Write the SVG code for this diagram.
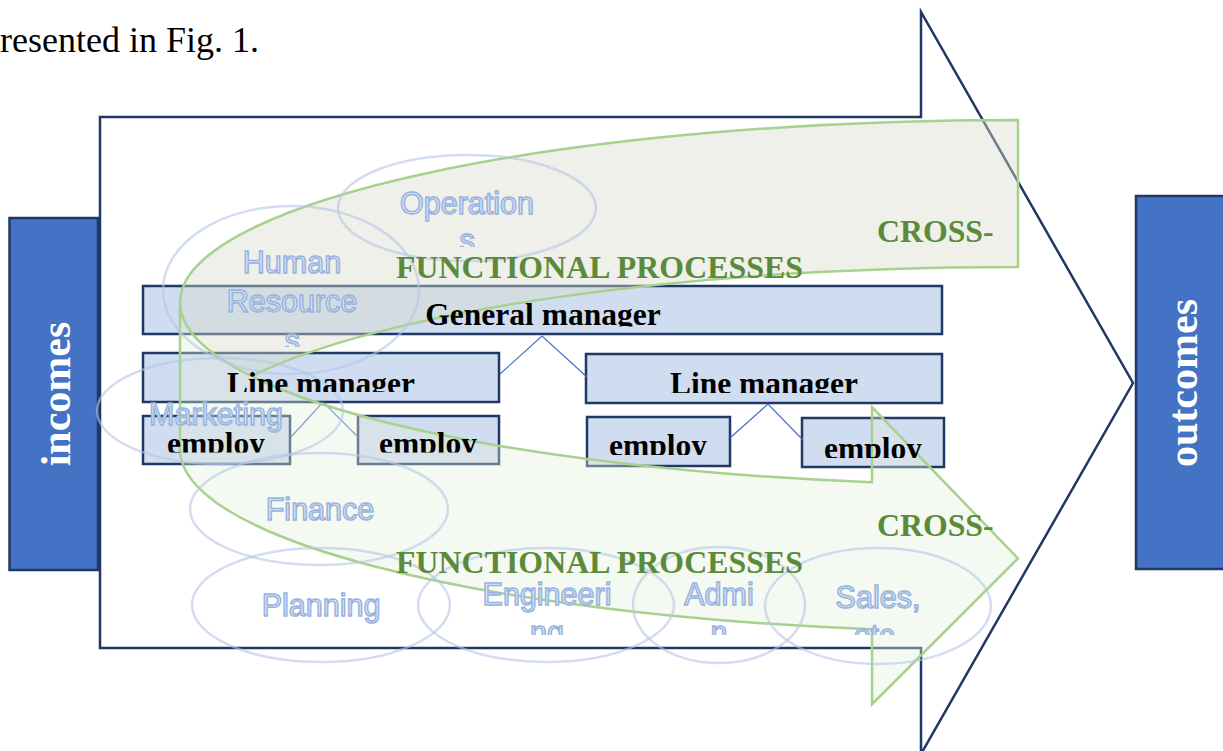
<svg xmlns="http://www.w3.org/2000/svg" width="1223" height="751" viewBox="0 0 1223 751">
<style>
.box{fill:#d0dcf0;stroke:#1f3864;stroke-width:2.5}
.side{fill:#4472c4;stroke:#1f3864;stroke-width:2.5}
.org{font-family:"Liberation Serif","Times New Roman",serif;font-weight:bold;font-size:31.5px;fill:#000;text-anchor:middle}
.side-t{font-family:"Liberation Serif","Times New Roman",serif;font-weight:bold;font-size:42px;fill:#fff;text-anchor:middle}
.green-t{font-family:"Liberation Serif","Times New Roman",serif;font-weight:bold;font-size:31.8px;fill:#5b8a3a}
.ell{fill:none;stroke:#b4c7e7;stroke-opacity:0.6;stroke-width:2.5}
.lab{font-family:"Liberation Sans",Arial,sans-serif;font-size:30.5px;fill:#dfe7f5;stroke:#97b3df;stroke-width:1.5;text-anchor:middle}
.con{fill:none;stroke:#4472c4;stroke-width:1.2}
</style>
<defs>
<clipPath id="cOp"><rect x="300" y="150" width="340" height="97"/></clipPath>
<clipPath id="cHR"><rect x="150" y="200" width="290" height="147"/></clipPath>
<clipPath id="cBot"><rect x="150" y="540" width="860" height="95"/></clipPath>
<clipPath id="cGM"><rect x="143" y="286" width="800" height="40.5"/></clipPath>
<clipPath id="cLM1"><rect x="143" y="353" width="356" height="39"/></clipPath>
<clipPath id="cLM2"><rect x="586" y="354" width="356" height="39"/></clipPath>
<clipPath id="cE1"><rect x="143" y="416" width="147" height="36.5"/></clipPath>
<clipPath id="cE2"><rect x="358" y="416" width="141" height="36.5"/></clipPath>
<clipPath id="cE3"><rect x="587" y="417" width="143" height="38"/></clipPath>
<clipPath id="cE4"><rect x="802" y="418" width="142" height="40"/></clipPath>
</defs>
<rect width="1223" height="751" fill="#fff"/>
<text x="0" y="52" font-family="'Liberation Serif','Times New Roman',serif" font-size="36" fill="#000">resented in Fig. 1.</text>
<g id="big-arrow">
<path d="M100,117 L921,117 L921,12 L1133,383 L921,754 L921,648 L100,648 Z" fill="#fff" stroke="#1f3864" stroke-width="2.5" stroke-linejoin="miter"/>
</g>
<g id="incomes">
<rect class="side" x="9.5" y="218" width="88.5" height="352"/>
<text class="side-t" transform="translate(70,394) rotate(-90)">incomes</text>
</g>
<g id="outcomes">
<rect class="side" x="1136" y="196" width="95" height="373"/>
<text class="side-t" transform="translate(1197,383) rotate(-90)">outcomes</text>
</g>
<g id="org-boxes">
<rect id="gm-box" class="box" x="143" y="286" width="799" height="48"/>
<rect id="lm1-box" class="box" x="143" y="353" width="356" height="49"/>
<rect id="lm2-box" class="box" x="586" y="354" width="356" height="49"/>
<rect id="e1-box" class="box" x="143" y="416" width="147" height="48"/>
<rect id="e2-box" class="box" x="358" y="416" width="141" height="48"/>
<rect id="e3-box" class="box" x="587" y="417" width="143" height="49"/>
<rect id="e4-box" class="box" x="802" y="418" width="142" height="49"/>
</g>
<g id="connectors">
<polyline class="con" points="500,374 542,336 587,377"/>
<polyline class="con" points="291,437 323,402 358,437"/>
<polyline class="con" points="730,438 768,404 803,440"/>
</g>
<g id="cross-functional-arrow">
<path d="M1018,120 L1018,267 A838,182.5 0 0 0 251,376.5 A838,182.5 0 0 1 1018,120 Z" fill="#d6dccb" fill-opacity="0.42"/>
<path d="M180,302.5 A838,182.5 0 0 0 872,482.2 L872,407.2 L1018,558.5 L872,704.2 L872,629.2 A838,182.5 0 0 1 180,449.5 Z" fill="#e2f0d9" fill-opacity="0.38"/>
<path d="M180,302.5 A838,182.5 0 0 0 872,482.2 L872,407.2 L1018,558.5 L872,704.2 L872,629.2 A838,182.5 0 0 1 180,449.5 Z M180,302.5 A838,182.5 0 0 1 1018,120 L1018,267 A838,182.5 0 0 0 251,376.5" fill="none" stroke="#a9d18e" stroke-width="2.5" stroke-linejoin="miter"/>
</g>
<g id="functions">
<g id="operations"><ellipse class="ell" cx="467" cy="208" rx="129" ry="53"/>
<g clip-path="url(#cOp)"><text class="lab" x="467" y="214">Operation</text><text class="lab" x="467" y="251">s</text></g></g>
<g id="human-resources"><ellipse class="ell" cx="291" cy="290" rx="128" ry="84"/>
<g clip-path="url(#cHR)"><text class="lab" x="292" y="273">Human</text><text class="lab" x="292" y="312">Resource</text><text class="lab" x="292" y="351">s</text></g></g>
<g id="marketing"><ellipse class="ell" cx="220" cy="411" rx="123" ry="53"/>
<text class="lab" x="216" y="425">Marketing</text></g>
<g id="finance"><ellipse class="ell" cx="319" cy="509" rx="129" ry="56"/>
<text class="lab" x="320" y="520">Finance</text></g>
<g id="planning"><ellipse class="ell" cx="321" cy="605" rx="129" ry="57"/>
<text class="lab" x="321" y="616">Planning</text></g>
<g id="engineering"><ellipse class="ell" cx="546" cy="605" rx="128" ry="57"/>
<g clip-path="url(#cBot)"><text class="lab" x="547" y="605">Engineeri</text><text class="lab" x="547" y="643">ng</text></g></g>
<g id="admin"><ellipse class="ell" cx="719" cy="605" rx="86" ry="58"/>
<g clip-path="url(#cBot)"><text class="lab" x="719" y="605">Admi</text><text class="lab" x="719" y="643">n</text></g></g>
<g id="sales"><ellipse class="ell" cx="878" cy="606" rx="113" ry="58"/>
<g clip-path="url(#cBot)"><text class="lab" x="878" y="608">Sales,</text><text class="lab" x="874" y="646">etc</text></g></g>
</g>
<g id="org-labels">
<text class="org" x="543" y="325" clip-path="url(#cGM)">General manager</text>
<text class="org" x="321" y="394" clip-path="url(#cLM1)">Line manager</text>
<text class="org" x="764" y="394" clip-path="url(#cLM2)">Line manager</text>
<text class="org" x="216" y="454" clip-path="url(#cE1)">employ</text>
<text class="org" x="428" y="454" clip-path="url(#cE2)">employ</text>
<text class="org" x="658" y="456" clip-path="url(#cE3)">employ</text>
<text class="org" x="873" y="459" clip-path="url(#cE4)">employ</text>
</g>
<g id="cross-labels">
<text class="green-t" x="877" y="242">CROSS-</text>
<text class="green-t" x="396" y="278" textLength="407">FUNCTIONAL PROCESSES</text>
<text class="green-t" x="877" y="536">CROSS-</text>
<text class="green-t" x="396" y="573" textLength="407">FUNCTIONAL PROCESSES</text>
</g>
</svg>
